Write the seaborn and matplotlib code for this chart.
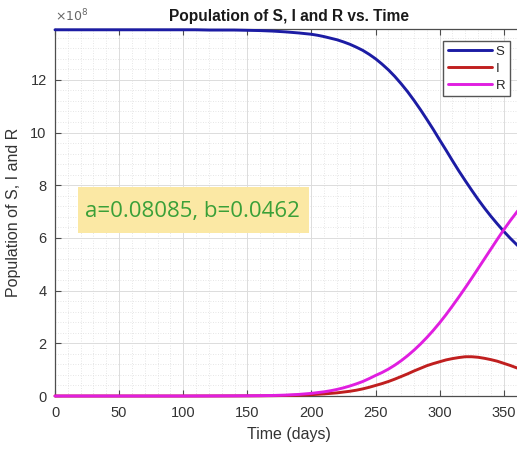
import numpy as np
import pandas as pd
import matplotlib
matplotlib.use("Agg")
import matplotlib.pyplot as plt
import seaborn as sns
from matplotlib.ticker import MultipleLocator
from matplotlib.patches import Rectangle

# ---- data (values in units of 1e8 people) ----
days = [0, 10, 20, 30, 40, 50, 60, 70, 80, 90, 100, 110, 120, 130, 140,
        150, 160, 170, 180, 190,
        200, 205, 210, 215, 220, 225, 230, 235, 240, 245, 250, 255, 260, 265,
        270, 275, 280, 285, 290, 295, 300, 305, 310, 315, 320, 325, 330, 335,
        340, 345, 350, 355, 360, 365, 370]
S_vals = [13.90, 13.90, 13.90, 13.90, 13.90, 13.90, 13.90, 13.90, 13.90, 13.90,
          13.90, 13.90, 13.89, 13.89, 13.89, 13.88, 13.87, 13.85, 13.82, 13.78,
          13.73, 13.69, 13.64, 13.58, 13.52, 13.44, 13.35, 13.24, 13.12, 12.97,
          12.80, 12.60, 12.38, 12.13, 11.85, 11.55, 11.22, 10.87, 10.50, 10.12,
          9.72, 9.33, 8.93, 8.54, 8.17, 7.81, 7.46, 7.13, 6.82, 6.53,
          6.25, 5.99, 5.75, 5.52, 5.31]
I_vals = [0.00, 0.00, 0.00, 0.00, 0.00, 0.00, 0.00, 0.00, 0.00, 0.00,
          0.00, 0.001, 0.002, 0.003, 0.004, 0.006, 0.008, 0.012, 0.02, 0.03,
          0.05, 0.065, 0.08, 0.10, 0.12, 0.15, 0.18, 0.22, 0.27, 0.33,
          0.40, 0.47, 0.55, 0.64, 0.74, 0.84, 0.95, 1.05, 1.15, 1.23,
          1.30, 1.37, 1.42, 1.46, 1.49, 1.49, 1.47, 1.43, 1.38, 1.32,
          1.24, 1.16, 1.07, 0.98, 0.90]
R_vals = [0.00, 0.00, 0.00, 0.00, 0.00, 0.00, 0.00, 0.00, 0.00, 0.00,
          0.00, 0.001, 0.002, 0.004, 0.006, 0.009, 0.013, 0.02, 0.035, 0.06,
          0.10, 0.13, 0.16, 0.20, 0.25, 0.31, 0.38, 0.46, 0.55, 0.66,
          0.78, 0.89, 1.02, 1.17, 1.34, 1.53, 1.74, 1.97, 2.22, 2.49,
          2.78, 3.09, 3.42, 3.76, 4.11, 4.47, 4.84, 5.21, 5.58, 5.95,
          6.31, 6.65, 6.97, 7.27, 7.55]
series_names = ["S", "I", "R"]
series_colors = ["#1c1ca4", "#c01f1f", "#e01ee0"]
x_ticks = [0, 50, 100, 150, 200, 250, 300, 350]
y_ticks = [0, 2, 4, 6, 8, 10, 12]
title_text = "Population of S, I and R vs. Time"
x_label = "Time (days)"
y_label = "Population of S, I and R"
annot_text = "a=0.08085, b=0.0462"

df = pd.DataFrame({
    "day": days * 3,
    "value": S_vals + I_vals + R_vals,
    "group": ["S"] * len(days) + ["I"] * len(days) + ["R"] * len(days),
})

sns.set_style("white")
plt.rcParams["font.family"] = ["Liberation Sans", "DejaVu Sans"]

W, H = 517, 449
fig = plt.figure(figsize=(W / 100, H / 100), dpi=100)
ax = fig.add_axes([55 / W, (H - 396) / H, 468 / W, 367 / H])

sns.lineplot(data=df, x="day", y="value", hue="group", hue_order=series_names,
             palette=series_colors, linewidth=2.1, ax=ax, legend=False,
             estimator=None, sort=True)
for ln in ax.lines:
    ln.set_clip_on(False)
    ln.set_zorder(4)

ax.set_xlim(0, 365)
ax.set_ylim(0, 13.93)
ax.set_xticks(x_ticks)
ax.set_yticks(y_ticks)
ax.xaxis.set_minor_locator(MultipleLocator(10))
ax.yaxis.set_minor_locator(MultipleLocator(0.4))

ax.grid(True, which="major", color="#dcdcdc", linewidth=0.7, linestyle="-")
ax.grid(True, which="minor", color="#dedede", linewidth=0.6, linestyle=(0, (1, 2)))
ax.set_axisbelow(True)

for side in ["left", "bottom", "top", "right"]:
    ax.spines[side].set_color("#4d4d4d")
    ax.spines[side].set_linewidth(0.9)
ax.tick_params(which="major", direction="in", length=4, width=0.8,
               color="#4d4d4d", labelcolor="#333333", labelsize=10.5,
               top=True, right=True, left=True, bottom=True)
ax.tick_params(axis="x", which="major", pad=7)
ax.tick_params(axis="y", which="major", pad=6)
ax.tick_params(which="minor", length=0)

ax.set_title(title_text, fontsize=11.2, fontweight="bold", color="#1a1a1a", pad=6)
ax.set_xlabel(x_label, fontsize=11.5, color="#333333", labelpad=5)
ax.set_ylabel(y_label, fontsize=11.5, color="#333333", labelpad=7)

ax.text(0.0, 1.012, r"$\times10^{8}$", transform=ax.transAxes, fontsize=9,
        color="#666666", ha="left", va="bottom")

# legend
handles = [plt.Line2D([], [], color=c, lw=2.1) for c in series_colors]
leg = fig.legend(handles, series_names, loc="upper right",
                 bbox_to_anchor=(510 / W, 1 - 41 / H), fontsize=9.5,
                 handlelength=3.4, handletextpad=0.25, labelspacing=0.35,
                 borderpad=0.35, borderaxespad=0, frameon=True, fancybox=False)
leg.get_frame().set_edgecolor("#555555")
leg.get_frame().set_linewidth(1.0)
leg.get_frame().set_facecolor("white")
leg.get_frame().set_alpha(1)

# annotation box
fig.patches.append(Rectangle((78 / W, 1 - 233 / H), 231 / W, 46 / H,
                             transform=fig.transFigure, facecolor="#fbe8a4",
                             edgecolor="none", zorder=5))
fig.text(192 / W, 1 - 211 / H, annot_text, fontsize=16, color="#3aa038",
         ha="center", va="center", family=["Open Sans", "DejaVu Sans"], zorder=6)

fig.savefig("out.png", dpi=100)
